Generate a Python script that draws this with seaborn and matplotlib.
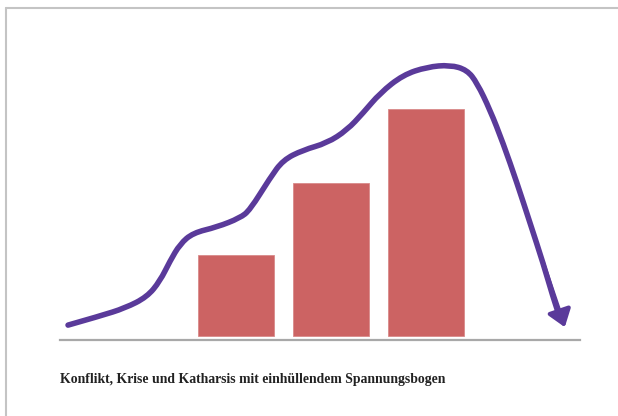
import matplotlib
matplotlib.use("Agg")
import matplotlib.pyplot as plt
from matplotlib.lines import Line2D
from matplotlib.path import Path
from matplotlib.patches import PathPatch
import seaborn as sns
import pandas as pd

# ---- data ----
categories = ["Konflikt", "Krise", "Katharsis"]
values = [35.7, 67.4, 100.0]

# envelope curve ("Spannungsbogen")
curve_x = [-1.768, -1.432, -1.168, -0.937, -0.800, -0.695, -0.589, -0.453, -0.200,
           0.042, 0.147, 0.358, 0.495, 0.705, 0.958, 1.168, 1.337, 1.516, 1.758,
           2.011, 2.253, 2.432, 2.537, 2.674, 2.811, 2.958, 3.095, 3.232, 3.337, 3.411]
curve_y = [4.8, 8.8, 12.3, 17.2, 24.2, 33.0, 40.5, 45.4, 48.0,
           52.0, 55.5, 69.6, 77.5, 81.9, 85.0, 90.7, 98.2, 107.0, 115.0,
           118.5, 119.4, 117.2, 111.5, 99.6, 85.0, 67.4, 49.8, 32.2, 17.2, 7.9]

caption = "Konflikt, Krise und Katharsis mit einhüllendem Spannungsbogen"

bar_color = "#CC6363"
curve_color = "#5A3A9A"

# ---- figure ----
sns.set_style("white")
W, H = 618, 416
fig = plt.figure(figsize=(W / 100, H / 100), dpi=100)
fig.patch.set_facecolor("white")

def px(x0, y0, x1, y1):
    return [x0 / W, 1 - y1 / H, (x1 - x0) / W, (y1 - y0) / H]

ax = fig.add_axes(px(60, 20, 580, 340))
df = pd.DataFrame({"phase": categories, "wert": values})
sns.barplot(data=df, x="phase", y="wert", color=bar_color, saturation=1,
            width=0.8, ax=ax, edgecolor="#D98A8A", linewidth=0.6)

# smooth hand-drawn curve: read points used as quadratic Bezier controls
pts = list(zip(curve_x, curve_y))
verts = [pts[0]]
codes = [Path.MOVETO]
for i in range(1, len(pts) - 1):
    mid = ((pts[i][0] + pts[i + 1][0]) / 2, (pts[i][1] + pts[i + 1][1]) / 2)
    verts += [pts[i], mid]
    codes += [Path.CURVE3, Path.CURVE3]
verts.append(pts[-1])
codes.append(Path.LINETO)
ax.add_patch(PathPatch(Path(verts, codes), facecolor="none", edgecolor=curve_color,
                       lw=4.0, capstyle="round", joinstyle="round"))

ax.annotate("", xy=(curve_x[-1] + 0.05, curve_y[-1] - 4.0),
            xytext=(curve_x[-3], curve_y[-3]),
            arrowprops=dict(arrowstyle="-|>,head_length=0.55,head_width=0.4",
                            color=curve_color, lw=3.0,
                            mutation_scale=18, shrinkA=0, shrinkB=0,
                            joinstyle="round", capstyle="round"))

ax.set_xlim(-1.8526, 3.6211)
ax.set_ylim(-1.76, 139.2)
ax.set_xticks([])
ax.set_yticks([])
ax.set_xlabel("")
ax.set_ylabel("")
for s in ["top", "right", "left"]:
    ax.spines[s].set_visible(False)
ax.spines["bottom"].set_color("#A8A8A8")
ax.spines["bottom"].set_linewidth(1.6)
ax.patch.set_alpha(0)

fig.text(60 / W, 1 - 379 / H, caption, fontfamily="Liberation Serif",
         fontweight="bold", fontsize=9.9, va="center", ha="left", color="#222222")

# frame (top and left edges)
fig.add_artist(Line2D([6 / W, 1.0], [1 - 8 / H, 1 - 8 / H], color="#C4C4C4", lw=1.5))
fig.add_artist(Line2D([6 / W, 6 / W], [0, 1 - 8 / H], color="#C4C4C4", lw=1.5))

fig.savefig("out.png", dpi=100, facecolor="white")
